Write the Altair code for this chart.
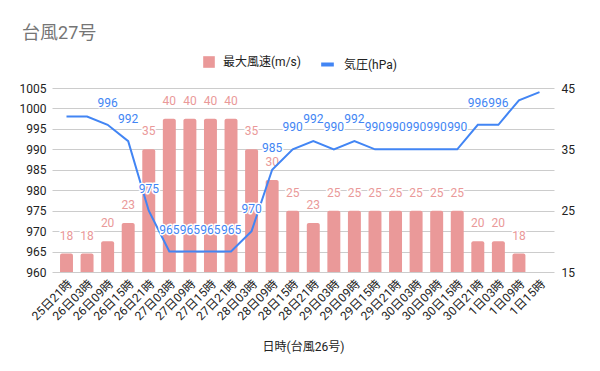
import altair as alt
import pandas as pd

times = ["25日21時", "26日03時", "26日09時", "26日15時", "26日21時", "27日03時",
         "27日09時", "27日15時", "27日21時", "28日03時", "28日09時", "28日15時",
         "28日21時", "29日03時", "29日09時", "29日15時", "29日21時", "30日03時",
         "30日09時", "30日15時", "30日21時", "1日03時", "1日09時", "1日15時"]
wind = [18, 18, 20, 23, 35, 40, 40, 40, 40, 35, 30, 25,
        23, 25, 25, 25, 25, 25, 25, 25, 20, 20, 18, None]
pressure = [998, 998, 996, 992, 975, 965, 965, 965, 965, 970, 985, 990,
            992, 990, 992, 990, 990, 990, 990, 990, 996, 996, 1002, 1004]
pressure_label = [None, None, 996, 992, 975, 965, 965, 965, 965, 970, 985, 990,
                  992, 990, 992, 990, 990, 990, 990, 990, 996, 996, None, None]

df = pd.DataFrame({"時刻": times, "風速": wind, "気圧": pressure, "気圧ラベル": pressure_label})

FONT = "Roboto, 'Noto Sans CJK JP', sans-serif"
BAR = "#EA9999"
LINE = "#4285F4"
TXT = "#222222"

x_enc = alt.X("時刻:N", sort=times,
              scale=alt.Scale(paddingInner=0.37, paddingOuter=0.39),
              axis=alt.Axis(title="日時(台風26号)", labelAngle=-45, domain=False, ticks=False,
                            labelPadding=6, titlePadding=20, labelFontSize=12,
                            labelColor=TXT, labelFont=FONT, titleFont=FONT,
                            titleFontSize=12, titleFontWeight="normal", titleColor=TXT))

wind_y = alt.Y("風速:Q", scale=alt.Scale(domain=[15, 45], zero=False, nice=False),
               axis=alt.Axis(orient="right", values=[15, 25, 35, 45], grid=False, domain=False,
                             ticks=False, title=None, labelPadding=7, labelFontSize=12,
                             labelColor=TXT, labelFont=FONT, format="d"))
pres_y = alt.Y("気圧:Q", scale=alt.Scale(domain=[960, 1005], zero=False, nice=False),
               axis=alt.Axis(orient="left", values=list(range(960, 1006, 5)), grid=True,
                             gridColor="#CCCCCC", domain=False, ticks=False, title=None,
                             labelPadding=6, labelFontSize=12, labelColor=TXT, labelFont=FONT,
                             format="d"))

base = alt.Chart(df)

bars = base.mark_bar(cornerRadiusTopLeft=2, cornerRadiusTopRight=2).transform_filter(
    "isValid(datum['風速'])"
).transform_calculate(
    系列="'最大風速(m/s)'"
).encode(
    x=x_enc,
    y=wind_y,
    y2=alt.datum(15),
    color=alt.Color("系列:N", scale=alt.Scale(domain=["最大風速(m/s)"], range=[BAR]),
                    legend=alt.Legend(orient="none", legendX=151, legendY=-32, title=None,
                                      symbolType="square", symbolSize=135, labelFontSize=12,
                                      labelOffset=8, labelFont=FONT, labelColor=TXT,
                                      padding=0, symbolStrokeWidth=0)),
)

wind_halo = base.transform_filter("isValid(datum['風速'])").mark_text(
    dy=-18, fontSize=12, font=FONT, color=BAR, stroke="white", strokeWidth=3, strokeJoin="round"
).encode(x=x_enc, y=wind_y, text="風速:Q")
wind_text = base.transform_filter("isValid(datum['風速'])").mark_text(
    dy=-18, fontSize=12, font=FONT, color=BAR
).encode(x=x_enc, y=wind_y, text="風速:Q")

line = base.mark_line(strokeWidth=2).transform_calculate(
    系列="'気圧(hPa)'"
).encode(
    x=x_enc,
    y=pres_y,
    color=alt.Color("系列:N", scale=alt.Scale(domain=["気圧(hPa)"], range=[LINE]),
                    legend=alt.Legend(orient="none", legendX=267, legendY=-32, title=None,
                                      symbolType="stroke", symbolSize=160, symbolStrokeWidth=4,
                                      labelFontSize=12, labelOffset=8, labelFont=FONT,
                                      labelColor=TXT, padding=0)),
)

p_halo = base.transform_filter("isValid(datum['気圧ラベル'])").mark_text(
    dy=-22, fontSize=12, font=FONT, color=LINE, stroke="white", strokeWidth=3, strokeJoin="round"
).encode(x=x_enc, y=pres_y, text="気圧ラベル:Q")
p_text = base.transform_filter("isValid(datum['気圧ラベル'])").mark_text(
    dy=-22, fontSize=12, font=FONT, color=LINE
).encode(x=x_enc, y=pres_y, text="気圧ラベル:Q")

wind_layer = alt.layer(bars, wind_halo, wind_text)
pres_layer = alt.layer(line, p_halo, p_text)

chart = alt.layer(wind_layer, pres_layer).resolve_scale(
    y="independent", color="independent"
).properties(
    width=502, height=184,
    title=alt.TitleParams("台風27号", anchor="start", frame="bounds", fontSize=18,
                          color="#757575", font=FONT, fontWeight="normal", dx=3, dy=-9),
    padding={"left": 44, "top": 80, "right": 38, "bottom": 90},
    autosize=alt.AutoSizeParams(type="none"),
    background="white",
).configure_view(stroke=None)

chart.save("out.html", embed_options={"renderer": "svg", "actions": False})
